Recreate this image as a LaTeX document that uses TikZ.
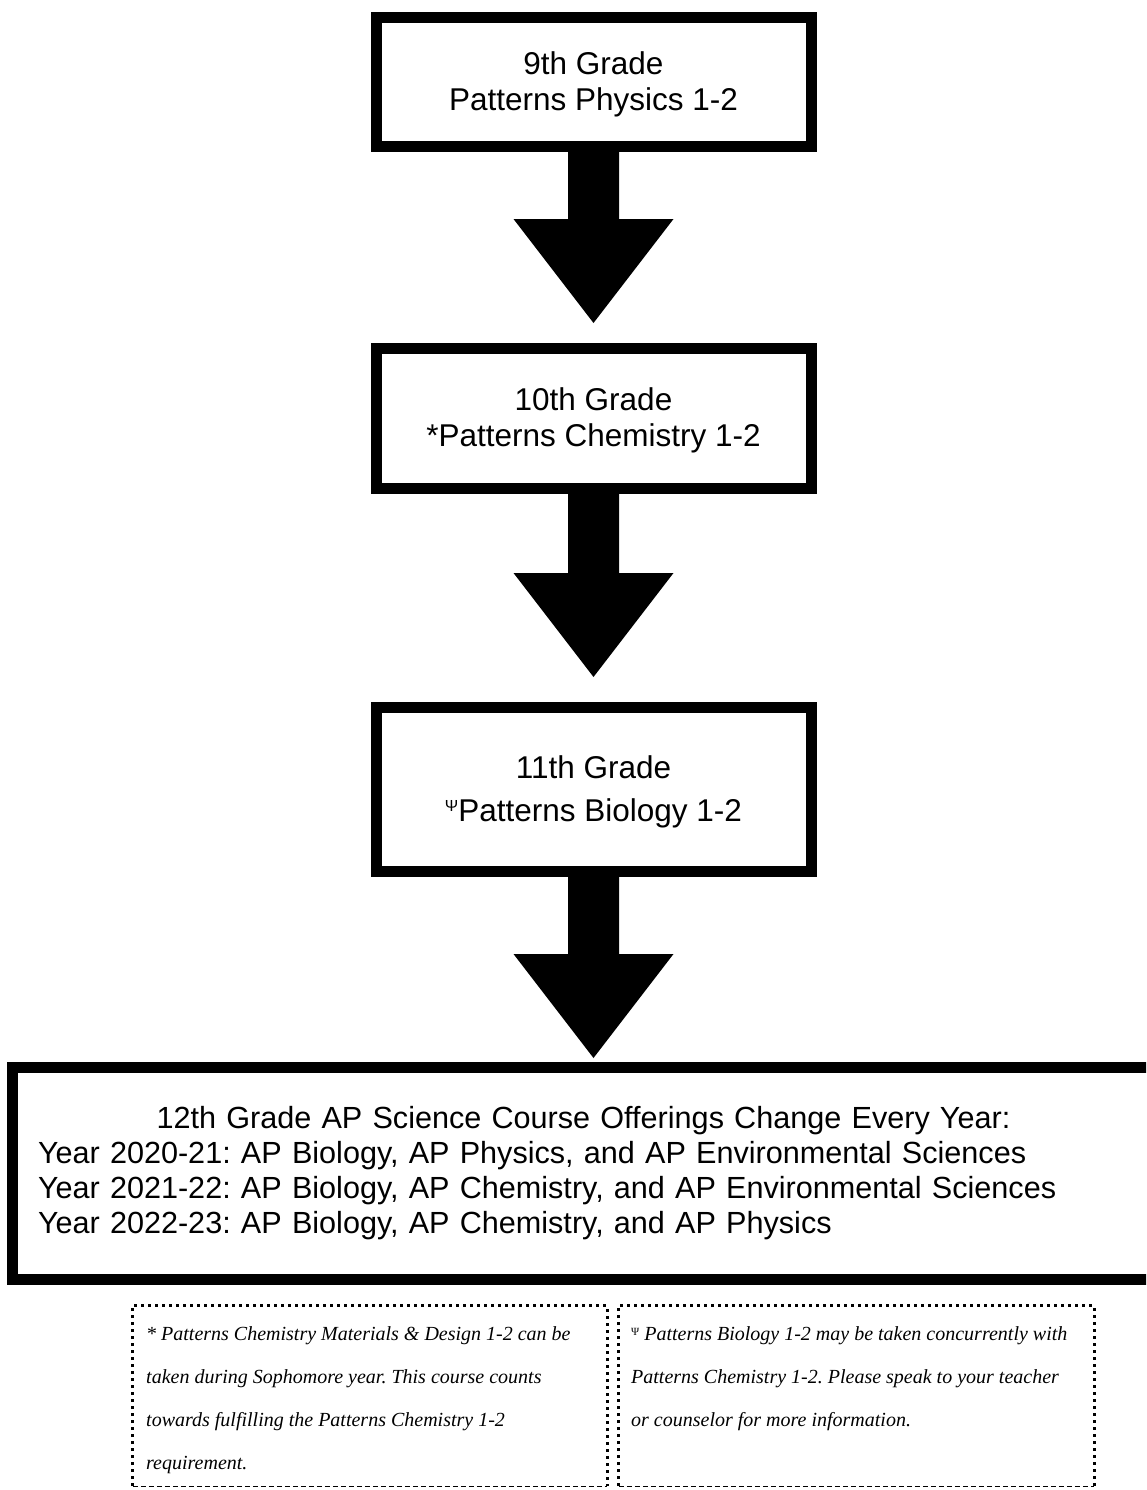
\documentclass[tikz,border=0pt]{standalone}
\usepackage{fontspec}
\setmainfont{Liberation Sans}
\newfontfamily\notefamily{Liberation Serif}
\usetikzlibrary{calc}
\frenchspacing
\newcommand{\gradefont}{\fontsize{31.5}{36}\selectfont}
\newcommand{\notefont}{\notefamily\itshape\fontsize{20}{43.3}\selectfont}
\tikzset{gradebox/.style={draw,line width=11pt,minimum width=435pt,inner sep=0pt,align=center,font=\gradefont},
  notebox/.style={minimum width=474pt,minimum height=180pt,inner sep=0pt},
  notedots/.style={line width=3pt,dash pattern=on 3pt off 4pt},
  notedash/.style={line width=1pt,dash pattern=on 5pt off 3pt},
  notetext/.style={anchor=north west,align=left,font=\notefont,inner sep=0pt}}
\newcommand{\gradearrow}[2]{%
  \fill ($(#1.south)+(-25.5,0)$) |- ($(#2)+(-80,-104)$) -- (#2) -- ($(#2)+(80,-104)$) -| ($(#1.south)+(25.5,0)$) -- cycle;}

\begin{document}
\begin{tikzpicture}[x=1pt,y=-1pt]
  \path[use as bounding box] (0,0) rectangle (1146,1490);
  \clip (0,0) rectangle (1146,1490);
  % grade boxes
  \node[gradebox,minimum height=129pt,text depth=2.5pt] (g9) at (593.5,82) {9th Grade\\Patterns Physics 1-2};
  \node[gradebox,minimum height=140pt,text depth=2.5pt] (g10) at (593.5,418.5) {10th Grade\\*Patterns Chemistry 1-2};
  \node[gradebox,minimum height=164pt,text depth=1pt] (g11) at (593.5,789.5) {11th Grade\\[7pt]\raisebox{10pt}{\fontsize{16}{16}\selectfont Ψ}Patterns Biology 1-2};
  \node[gradebox,minimum width=1142pt,minimum height=212pt,inner xsep=25.5pt,text width=1091pt,align=left,
    font=\fontsize{30.6}{35}\selectfont] (g12) at (583.5,1173)
    {\makebox[\hsize]{12th Grade AP Science Course Offerings Change Every Year:}\\
     Year 2020-21: AP Biology, AP Physics, and AP Environmental Sciences\\
     Year 2021-22: AP Biology, AP Chemistry, and AP Environmental Sciences\\
     Year 2022-23: AP Biology, AP Chemistry, and AP Physics};
  % arrows
  \coordinate (tip1) at (593.5,323);
  \coordinate (tip2) at (593.5,677);
  \coordinate (tip3) at (593.5,1058);
  \gradearrow{g9}{tip1}
  \gradearrow{g10}{tip2}
  \gradearrow{g11}{tip3}
  % notes
  \node[notebox] (noteL) at (370,1396) {};
  \node[notebox,minimum width=475pt] (noteR) at (856.5,1396) {};
  \foreach \n in {noteL,noteR}{
    \draw[notedots] (\n.south west) |- (\n.north east) -- (\n.south east);
    \draw[notedash] (\n.south west) -- (\n.south east);
  }
  \node[notetext] (noteLtext) at (146,1326)
    {* Patterns Chemistry Materials \& Design 1-2 can be\\
     taken during Sophomore year. This course counts\\
     towards fulfilling the Patterns Chemistry 1-2\\
     requirement.};
  \node[notetext] (noteRtext) at (631,1326)
    {\raisebox{5pt}{\upshape\fontsize{11}{11}\selectfont Ψ} Patterns Biology 1-2 may be taken concurrently with\\
     Patterns Chemistry 1-2. Please speak to your teacher\\
     or counselor for more information.};
\end{tikzpicture}
\end{document}
